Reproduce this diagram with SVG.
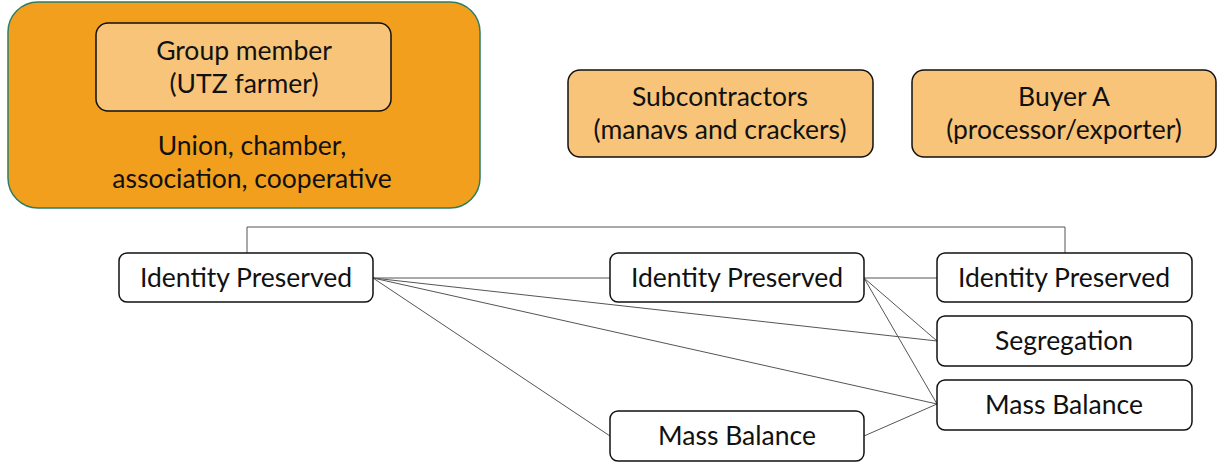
<svg xmlns="http://www.w3.org/2000/svg" width="1221" height="463" viewBox="0 0 1221 463">
<style>
text{font-family:Lato,"Open Sans","Liberation Sans",sans-serif;font-size:26.5px;fill:#111;text-anchor:middle}
.w{fill:#fff;stroke:#111;stroke-width:1.5}
.o{fill:#F7C47A;stroke:#111;stroke-width:1.5}
.c{stroke:#555;stroke-width:1;fill:none}
</style>
<rect width="1221" height="463" fill="#fff"/>
<g id="group-org">
<rect x="8" y="2" width="472" height="206" rx="30" fill="#F29F1D" stroke="#2E7D64" stroke-width="1.5"/>
<text x="252" y="155">Union, chamber,</text>
<text x="252" y="188">association, cooperative</text>
</g>
<g id="group-member">
<rect class="o" x="96" y="23" width="295" height="88" rx="12"/>
<text x="244" y="60">Group member</text>
<text x="244" y="93">(UTZ farmer)</text>
</g>
<g id="subcontractors">
<rect class="o" x="568" y="70" width="305" height="87" rx="12"/>
<text x="720" y="106">Subcontractors</text>
<text x="720" y="139">(manavs and crackers)</text>
</g>
<g id="buyer-a">
<rect class="o" x="912" y="70" width="304" height="87" rx="12"/>
<text x="1064" y="106">Buyer A</text>
<text x="1064" y="139">(processor/exporter)</text>
</g>
<g id="connectors">
<polyline class="c" points="247,253 247,227 1065,227 1065,253"/>
<line class="c" x1="373" y1="278" x2="610" y2="278"/>
<line class="c" x1="373" y1="278" x2="937" y2="341"/>
<line class="c" x1="373" y1="278" x2="937" y2="404"/>
<line class="c" x1="373" y1="278" x2="610" y2="436"/>
<line class="c" x1="864" y1="278" x2="937" y2="278"/>
<line class="c" x1="864" y1="278" x2="937" y2="341"/>
<line class="c" x1="864" y1="278" x2="937" y2="404"/>
<line class="c" x1="864" y1="436" x2="937" y2="404"/>
</g>
<g id="ip-1">
<rect class="w" x="119" y="253" width="254" height="49" rx="8"/>
<text x="246" y="287">Identity Preserved</text>
</g>
<g id="ip-2">
<rect class="w" x="610" y="253" width="254" height="49" rx="8"/>
<text x="737" y="287">Identity Preserved</text>
</g>
<g id="ip-3">
<rect class="w" x="937" y="253" width="255" height="49" rx="8"/>
<text x="1064" y="287">Identity Preserved</text>
</g>
<g id="segregation">
<rect class="w" x="937" y="316" width="255" height="50" rx="8"/>
<text x="1064" y="350">Segregation</text>
</g>
<g id="mass-balance-right">
<rect class="w" x="937" y="380" width="255" height="50" rx="8"/>
<text x="1064" y="414">Mass Balance</text>
</g>
<g id="mass-balance-bottom">
<rect class="w" x="610" y="411" width="254" height="50" rx="8"/>
<text x="737" y="445">Mass Balance</text>
</g>
</svg>
